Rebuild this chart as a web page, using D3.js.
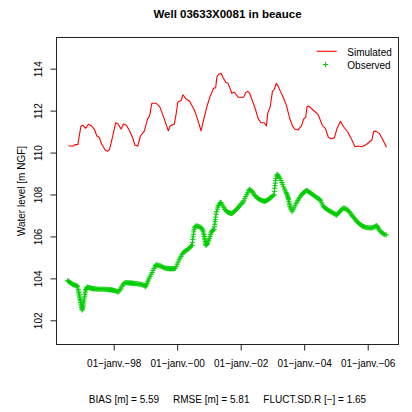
<!DOCTYPE html>
<html>
<head>
<meta charset="utf-8">
<script src="https://cdn.jsdelivr.net/npm/d3@7"></script>
<style>
  html, body { margin: 0; padding: 0; background: #fff; }
  svg { display: block; font-family: "Liberation Sans", Arial, Helvetica, sans-serif; }
</style>
</head>
<body>
<svg id="chart" width="412" height="412"></svg>
<script>
// ---- data (decimal years, water level m NGF) ----
const titleText = "Well 03633X0081 in beauce";
const yAxisTitle = "Water level [m NGF]";
const seriesNames = ["Simulated", "Observed"];

const simYears = [1996.57,1996.73,1996.78,1996.87,1996.91,1996.97,1997.03,1997.12,1997.20,1997.29,1997.39,1997.47,1997.54,1997.62,1997.73,1997.81,1997.87,1997.96,1998.06,1998.14,1998.23,1998.31,1998.40,1998.50,1998.59,1998.67,1998.76,1998.84,1998.96,1999.07,1999.13,1999.20,1999.34,1999.45,1999.53,1999.62,1999.72,1999.78,1999.91,1999.97,2000.02,2000.12,2000.18,2000.27,2000.39,2000.54,2000.65,2000.75,2000.83,2000.94,2001.04,2001.15,2001.21,2001.25,2001.32,2001.38,2001.44,2001.53,2001.59,2001.65,2001.72,2001.80,2001.86,2001.92,2002.09,2002.16,2002.22,2002.28,2002.37,2002.47,2002.55,2002.64,2002.74,2002.81,2002.85,2002.93,2003.00,2003.06,2003.12,2003.18,2003.27,2003.35,2003.44,2003.54,2003.63,2003.71,2003.81,2003.92,2003.98,2004.05,2004.09,2004.15,2004.28,2004.44,2004.57,2004.66,2004.76,2004.84,2004.95,2005.03,2005.14,2005.24,2005.37,2005.47,2005.60,2005.70,2005.81,2005.91,2005.98,2006.08,2006.13,2006.19,2006.27,2006.38,2006.48,2006.59];
const simValues = [110.31,110.31,110.38,110.38,110.76,111.27,111.30,111.16,111.35,111.28,111.11,110.79,110.73,110.41,110.12,110.06,110.16,110.73,111.42,111.36,111.12,111.36,111.30,111.04,110.73,110.35,110.31,110.79,111.01,111.62,111.74,112.35,112.35,112.19,111.87,111.49,111.04,111.27,111.36,111.87,112.41,112.47,112.76,112.57,112.45,112.03,111.55,111.04,111.55,112.22,112.70,113.08,113.08,113.62,113.75,113.78,113.59,113.34,113.33,113.12,112.83,112.89,112.76,112.64,112.64,112.86,112.92,112.83,112.47,112.03,111.62,111.42,111.42,111.27,111.87,112.19,112.92,113.02,113.30,113.17,112.86,112.60,112.25,111.65,111.27,111.11,111.08,111.30,111.59,111.68,112.19,112.22,112.03,111.81,111.30,111.17,110.73,110.66,110.70,111.14,111.49,111.23,110.98,110.70,110.28,110.31,110.28,110.35,110.41,110.54,110.60,111.01,111.01,110.89,110.60,110.25];

// observed readings: [decimal year, level]
const obsReadings = [
[1996.55,103.89],[1996.58,103.86],[1996.61,103.82],[1996.64,103.79],[1996.67,103.75],[1996.70,103.72],[1996.73,103.70],[1996.76,103.68],[1996.79,103.67],[1996.82,103.66],[1996.85,103.63],[1996.87,103.60],
[1996.88,103.48],[1996.89,103.40],[1996.90,103.32],[1996.91,103.24],[1996.92,103.16],[1996.93,103.08],[1996.94,103.00],[1996.95,102.93],[1996.96,102.85],[1996.97,102.77],[1996.98,102.69],[1996.99,102.61],[1997.00,102.53],[1997.01,102.49],
[1997.02,102.58],[1997.03,102.65],[1997.04,102.73],[1997.05,102.82],[1997.06,102.92],[1997.07,103.02],[1997.08,103.12],[1997.09,103.22],[1997.10,103.31],[1997.11,103.40],[1997.12,103.47],[1997.14,103.53],[1997.16,103.57],[1997.18,103.58],
[1997.21,103.56],[1997.24,103.55],[1997.27,103.54],[1997.30,103.52],[1997.33,103.51],[1997.36,103.51],[1997.39,103.50],[1997.42,103.50],[1997.45,103.49],[1997.48,103.49],[1997.51,103.49],[1997.54,103.48],[1997.57,103.48],[1997.60,103.48],[1997.63,103.48],[1997.66,103.48],[1997.69,103.48],[1997.72,103.48],[1997.75,103.47],[1997.78,103.47],[1997.81,103.47],[1997.84,103.46],[1997.87,103.46],[1997.90,103.45],[1997.93,103.45],[1997.96,103.44],[1997.99,103.43],
[1998.02,103.42],[1998.05,103.41],[1998.08,103.39],[1998.11,103.37],[1998.14,103.35],[1998.17,103.40],[1998.20,103.47],[1998.23,103.54],[1998.26,103.62],[1998.29,103.69],[1998.32,103.75],[1998.35,103.79],[1998.38,103.80],[1998.41,103.79],[1998.44,103.79],[1998.47,103.78],[1998.50,103.78],[1998.53,103.78],[1998.56,103.77],[1998.59,103.77],[1998.62,103.76],[1998.65,103.76],[1998.68,103.75],[1998.71,103.75],[1998.74,103.74],[1998.77,103.73],[1998.80,103.73],[1998.83,103.72],[1998.86,103.71],[1998.89,103.70],[1998.92,103.69],[1998.95,103.67],[1998.98,103.64],
[1999.01,103.60],[1999.03,103.68],[1999.05,103.76],[1999.07,103.84],[1999.09,103.92],[1999.12,104.01],[1999.15,104.10],[1999.18,104.19],[1999.21,104.28],[1999.24,104.38],[1999.27,104.47],[1999.30,104.55],[1999.32,104.61],[1999.34,104.65],[1999.37,104.63],[1999.40,104.62],[1999.43,104.61],[1999.46,104.60],[1999.49,104.58],[1999.52,104.56],[1999.55,104.53],[1999.58,104.51],[1999.61,104.49],[1999.64,104.48],[1999.67,104.48],[1999.70,104.47],[1999.73,104.47],[1999.76,104.46],[1999.79,104.46],[1999.82,104.46],[1999.85,104.46],[1999.88,104.46],[1999.91,104.46],[1999.94,104.48],[1999.97,104.57],
[2000.00,104.68],[2000.03,104.78],[2000.06,104.88],[2000.09,104.97],[2000.12,105.05],[2000.15,105.13],[2000.18,105.20],[2000.21,105.25],[2000.24,105.29],[2000.27,105.32],[2000.30,105.34],[2000.33,105.38],[2000.36,105.42],[2000.39,105.46],[2000.42,105.51],[2000.45,105.55],[2000.47,105.58],
[2000.48,105.72],[2000.49,105.85],[2000.50,105.98],[2000.51,106.10],[2000.52,106.22],[2000.53,106.32],[2000.55,106.42],[2000.57,106.48],[2000.60,106.50],[2000.63,106.49],[2000.66,106.48],[2000.69,106.47],[2000.72,106.45],[2000.75,106.41],[2000.78,106.37],[2000.80,106.31],[2000.82,106.25],
[2000.83,106.16],[2000.84,106.08],[2000.85,106.00],[2000.86,105.92],[2000.87,105.84],[2000.88,105.76],[2000.89,105.68],[2000.90,105.61],[2000.91,105.58],[2000.93,105.61],[2000.95,105.66],[2000.97,105.74],[2000.99,105.82],
[2001.01,105.90],[2001.03,105.99],[2001.05,106.08],[2001.07,106.17],[2001.09,106.24],[2001.11,106.28],[2001.13,106.31],[2001.16,106.34],[2001.17,106.46],[2001.18,106.58],[2001.19,106.70],[2001.20,106.80],[2001.21,106.92],[2001.22,107.06],[2001.24,107.18],[2001.26,107.30],[2001.28,107.40],[2001.30,107.48],[2001.33,107.56],[2001.36,107.62],[2001.38,107.62],[2001.41,107.54],[2001.44,107.45],[2001.47,107.37],[2001.50,107.29],[2001.53,107.23],[2001.56,107.19],[2001.59,107.16],[2001.62,107.14],[2001.65,107.12],[2001.68,107.11],[2001.71,107.10],[2001.74,107.12],[2001.77,107.15],[2001.80,107.19],[2001.83,107.23],[2001.86,107.28],[2001.89,107.33],[2001.92,107.38],[2001.95,107.43],[2001.98,107.49],
[2002.01,107.55],[2002.04,107.59],[2002.07,107.63],[2002.10,107.70],[2002.13,107.80],[2002.16,107.90],[2002.19,107.99],[2002.22,108.08],[2002.25,108.18],[2002.27,108.25],[2002.30,108.22],[2002.33,108.18],[2002.36,108.15],[2002.39,108.08],[2002.42,108.01],[2002.45,107.95],[2002.48,107.90],[2002.51,107.85],[2002.54,107.81],[2002.57,107.78],[2002.60,107.76],[2002.63,107.74],[2002.66,107.72],[2002.69,107.70],[2002.72,107.69],[2002.75,107.68],[2002.78,107.69],[2002.81,107.71],[2002.84,107.73],[2002.87,107.76],[2002.90,107.80],[2002.93,107.84],[2002.96,107.87],[2002.99,107.91],
[2003.02,107.95],[2003.05,107.99],[2003.06,108.15],[2003.07,108.30],[2003.08,108.42],[2003.09,108.54],[2003.10,108.66],[2003.11,108.77],[2003.13,108.88],[2003.15,108.96],[2003.17,108.92],[2003.19,108.88],[2003.21,108.83],[2003.24,108.77],[2003.27,108.67],[2003.30,108.57],[2003.32,108.49],[2003.35,108.37],[2003.38,108.26],[2003.40,108.17],[2003.43,108.09],[2003.45,108.03],[2003.47,107.98],[2003.48,107.92],[2003.49,107.86],[2003.50,107.80],[2003.51,107.75],[2003.52,107.67],[2003.53,107.59],[2003.54,107.51],[2003.55,107.44],[2003.57,107.36],[2003.59,107.28],[2003.62,107.18],[2003.65,107.27],[2003.68,107.36],[2003.71,107.46],[2003.74,107.56],[2003.77,107.64],[2003.80,107.72],[2003.83,107.79],[2003.86,107.86],[2003.89,107.94],[2003.92,107.99],[2003.95,108.04],[2003.98,108.08],
[2004.01,108.12],[2004.04,108.16],[2004.07,108.19],[2004.10,108.18],[2004.13,108.14],[2004.16,108.11],[2004.19,108.08],[2004.22,108.05],[2004.25,108.01],[2004.28,107.98],[2004.31,107.95],[2004.34,107.91],[2004.37,107.88],[2004.40,107.85],[2004.43,107.82],[2004.46,107.80],[2004.49,107.76],[2004.52,107.70],[2004.55,107.60],[2004.58,107.50],[2004.61,107.42],[2004.64,107.37],[2004.67,107.34],[2004.70,107.31],[2004.73,107.28],[2004.76,107.25],[2004.79,107.22],[2004.82,107.19],[2004.85,107.17],[2004.88,107.15],[2004.91,107.12],[2004.94,107.09],[2004.97,107.06],
[2005.00,107.03],[2005.02,107.02],[2005.05,107.07],[2005.08,107.12],[2005.11,107.17],[2005.14,107.22],[2005.17,107.27],[2005.20,107.32],[2005.23,107.34],[2005.26,107.34],[2005.29,107.33],[2005.32,107.30],[2005.35,107.27],[2005.38,107.25],[2005.41,107.19],[2005.44,107.13],[2005.47,107.07],[2005.50,107.01],[2005.53,106.96],[2005.56,106.90],[2005.59,106.84],[2005.62,106.79],[2005.65,106.73],[2005.68,106.69],[2005.71,106.64],[2005.74,106.60],[2005.77,106.57],[2005.80,106.53],[2005.83,106.50],[2005.86,106.48],[2005.89,106.46],[2005.92,106.44],[2005.95,106.43],[2005.98,106.42],
[2006.01,106.42],[2006.04,106.41],[2006.07,106.41],[2006.10,106.41],[2006.13,106.41],[2006.16,106.42],[2006.19,106.44],[2006.22,106.46],[2006.25,106.49],[2006.28,106.51],[2006.30,106.48],[2006.32,106.42],[2006.34,106.36],[2006.36,106.31],[2006.39,106.26],[2006.42,106.22],[2006.45,106.18],[2006.48,106.14],[2006.51,106.11],[2006.54,106.09],[2006.58,106.07]
];

const xTickYears = [1998, 2000, 2002, 2004, 2006];
const xTickLabels = ["01\u2212janv.\u221298", "01\u2212janv.\u221200", "01\u2212janv.\u221202", "01\u2212janv.\u221204", "01\u2212janv.\u221206"];
const yTicks = [102, 104, 106, 108, 110, 112, 114];
const xLimits = [1996.183, 2006.986];
const yLimits = [100.822, 115.512];

const statNames = ["BIAS [m]", "RMSE [m]", "FLUCT.SD.R [\u2212]"];
const statValues = ["5.59", "5.81", "1.65"];

// ---- helpers ----
function decToDate(y) {
  const yr = Math.floor(y);
  const s = Date.UTC(yr, 0, 1), e = Date.UTC(yr + 1, 0, 1);
  return new Date(s + (y - yr) * (e - s));
}

const m = { left: 56, right: 399, top: 37, bottom: 345 };
const svg = d3.select("#chart");

const x = d3.scaleUtc().domain(xLimits.map(decToDate)).range([m.left, m.right]);
const y = d3.scaleLinear().domain(yLimits).range([m.bottom, m.top]);

const sim = simYears.map((t, i) => ({ d: decToDate(t), v: simValues[i] }));
const obs = obsReadings.map(r => ({ d: decToDate(r[0]), v: r[1] }));

const RED = "#ff0000", GREEN = "#00cd00", AX = "#222";

// title
svg.append("text").attr("x", 227.5).attr("y", 18).attr("text-anchor", "middle")
  .attr("font-size", 11.5).attr("font-weight", "bold").attr("fill", "#000").text(titleText);

// observed points (plus signs)
const pl = 2.6;
svg.append("g").selectAll("path").data(obs).enter().append("path")
  .attr("d", p => {
    const cx = x(p.d), cy = y(p.v);
    return `M${cx - pl},${cy}H${cx + pl}M${cx},${cy - pl}V${cy + pl}`;
  })
  .attr("stroke", GREEN).attr("stroke-width", 1).attr("fill", "none");

// simulated line
svg.append("path").datum(sim)
  .attr("d", d3.line().x(p => x(p.d)).y(p => y(p.v)))
  .attr("fill", "none").attr("stroke", RED).attr("stroke-width", 1.1).attr("stroke-linejoin", "round");

// box
svg.append("rect").attr("x", m.left + 0.5).attr("y", m.top + 0.5)
  .attr("width", m.right - m.left - 1).attr("height", m.bottom - m.top - 1)
  .attr("fill", "none").attr("stroke", AX).attr("stroke-width", 1);

// x axis
const xAxis = d3.axisBottom(x)
  .tickValues(xTickYears.map(decToDate))
  .tickFormat((d, i) => xTickLabels[i])
  .tickSize(6).tickPadding(8);
const gx = svg.append("g").attr("transform", `translate(0,${m.bottom - 0.5})`).call(xAxis);
gx.select(".domain").remove();
gx.selectAll(".tick line").attr("stroke", AX);
gx.selectAll(".tick text").attr("font-size", 10).attr("fill", "#000")
  .attr("font-family", "Liberation Sans, Arial, sans-serif").attr("dy", null).attr("y", 22);

// y axis
const yAxis = d3.axisLeft(y).tickValues(yTicks).tickSize(6).tickFormat(d3.format("d"));
const gy = svg.append("g").attr("transform", `translate(${m.left + 0.5},0)`).call(yAxis);
gy.select(".domain").remove();
gy.selectAll(".tick line").attr("stroke", AX);
gy.selectAll(".tick text").attr("font-size", 10).attr("fill", "#000")
  .attr("font-family", "Liberation Sans, Arial, sans-serif")
  .attr("text-anchor", "middle").attr("dy", null).attr("x", null)
  .attr("transform", "translate(-14.5,0) rotate(-90)");

// y axis title
svg.append("text").attr("transform", "translate(24.5,191) rotate(-90)")
  .attr("text-anchor", "middle").attr("font-size", 10).attr("fill", "#000").text(yAxisTitle);

// legend
svg.append("line").attr("x1", 316.7).attr("x2", 336.7).attr("y1", 51.3).attr("y2", 51.3)
  .attr("stroke", RED).attr("stroke-width", 1.1);
svg.append("path").attr("d", `M${325.5 - pl},64.5H${325.5 + pl}M325.5,${64.5 - pl}V${64.5 + pl}`)
  .attr("stroke", GREEN).attr("stroke-width", 1);
svg.append("text").attr("x", 347.3).attr("y", 55.5).attr("font-size", 10).attr("fill", "#000").text(seriesNames[0]);
svg.append("text").attr("x", 347.3).attr("y", 68.5).attr("font-size", 10).attr("fill", "#000").text(seriesNames[1]);

// stats line
svg.append("text").attr("x", 227.5).attr("y", 403).attr("text-anchor", "middle")
  .attr("font-size", 10).attr("fill", "#000").style("white-space", "pre")
  .text(statNames.map((n, i) => `${n} = ${statValues[i]}`).join("     "));
</script>
</body>
</html>
